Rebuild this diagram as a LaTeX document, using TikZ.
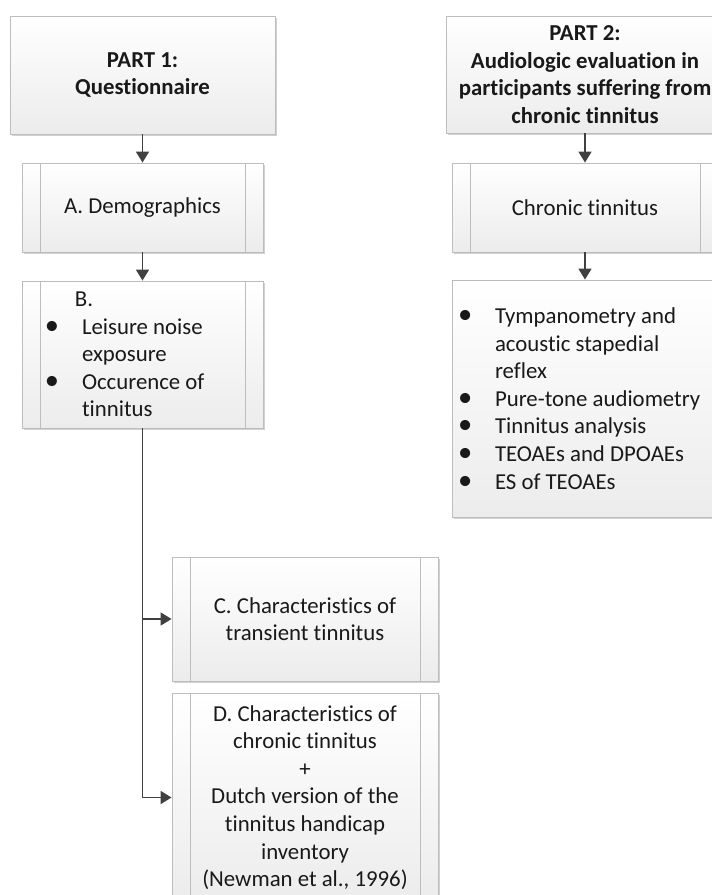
\documentclass[tikz,border=0pt]{standalone}
\usepackage{fontspec}
\setmainfont{Carlito}[Ligatures=NoCommon]
\usetikzlibrary{arrows.meta,shadows}
\definecolor{boxborder}{HTML}{BDBDBD}
\definecolor{arrowc}{HTML}{404040}
\definecolor{boxbottom}{HTML}{ECECEC}
\newcommand{\bul}[1]{\makebox[37pt][l]{\scalebox{1.25}{\textbullet}}#1}
\newcommand{\ind}[2]{\hspace*{#1}#2}
\begin{document}
\begin{tikzpicture}[x=1pt,y=-1pt,
  box/.style={draw=boxborder, line width=0.9pt, top color=white, bottom color=boxbottom,
    drop shadow={shadow xshift=1.5pt,shadow yshift=-1.5pt,fill=black!30,opacity=0.6},
    inner sep=0pt, font=\fontsize{22.8}{27.6}\selectfont, text=black!90},
  process/.style={box, path picture={\draw[boxborder, line width=0.9pt]
      ([xshift=18pt]path picture bounding box.north west) -- ([xshift=18pt]path picture bounding box.south west)
      ([xshift=-18pt]path picture bounding box.north east) -- ([xshift=-18pt]path picture bounding box.south east);}},
  arr/.style={draw=arrowc, line width=1.7pt, -{Triangle[width=13pt,length=11pt]}}
]
\useasboundingbox (0,0) rectangle (712,895);
\clip (0,0) rectangle (712,895);

% Part 1
\node[box, minimum width=265pt, minimum height=118pt, align=center, font=\fontsize{22.8}{27.6}\selectfont\bfseries]
  (p1) at (142.5,75) {PART 1:\\Questionnaire};
\node[process, minimum width=241pt, minimum height=89pt] (A) at (142.5,207.5) {A. Demographics};
\node[process, minimum width=241pt, minimum height=147pt, align=left] (B) at (142.5,354.5)
  {\makebox[195pt][l]{\ind{30pt}{B.}}\\
   \bul{Leisure noise}\\
   \ind{37pt}{exposure}\\
   \bul{Occurence of}\\
   \ind{37pt}{tinnitus}};
\node[process, minimum width=266pt, minimum height=124pt, align=center] (C) at (305,619)
  {C. Characteristics of\\transient tinnitus};
\node[process, minimum width=266pt, minimum height=209pt, align=center] (D) at (305,797.5)
  {D. Characteristics of\\chronic tinnitus\\+\\Dutch version of the\\tinnitus handicap\\inventory\\(Newman et al., 1996)};

% Part 2
\node[box, minimum width=278pt, minimum height=117pt, align=center, font=\fontsize{22.8}{27.6}\selectfont\bfseries]
  (p2) at (585,74.5) {PART 2:\\Audiologic evaluation in\\participants suffering from\\chronic tinnitus};
\node[process, minimum width=266pt, minimum height=89pt] (CT) at (585,207.5) {Chronic tinnitus};
\node[box, minimum width=266pt, minimum height=237pt, align=left] (L) at (585,398.5)
  {\makebox[254pt][l]{\bul{Tympanometry and}}\\
   \ind{37pt}{acoustic stapedial}\\
   \ind{37pt}{reflex}\\
   \bul{Pure-tone audiometry}\\
   \bul{Tinnitus analysis}\\
   \bul{TEOAEs and DPOAEs}\\
   \bul{ES of TEOAEs}};

% connectors
\draw[arr] (p1) -- (A);
\draw[arr] (A) -- (B);
\draw[arr] (B.south) |- (C.west);
\draw[arr] (B.south) |- (D.west);
\draw[arr] (p2) -- (CT);
\draw[arr] (CT) -- (L);
\end{tikzpicture}
\end{document}
